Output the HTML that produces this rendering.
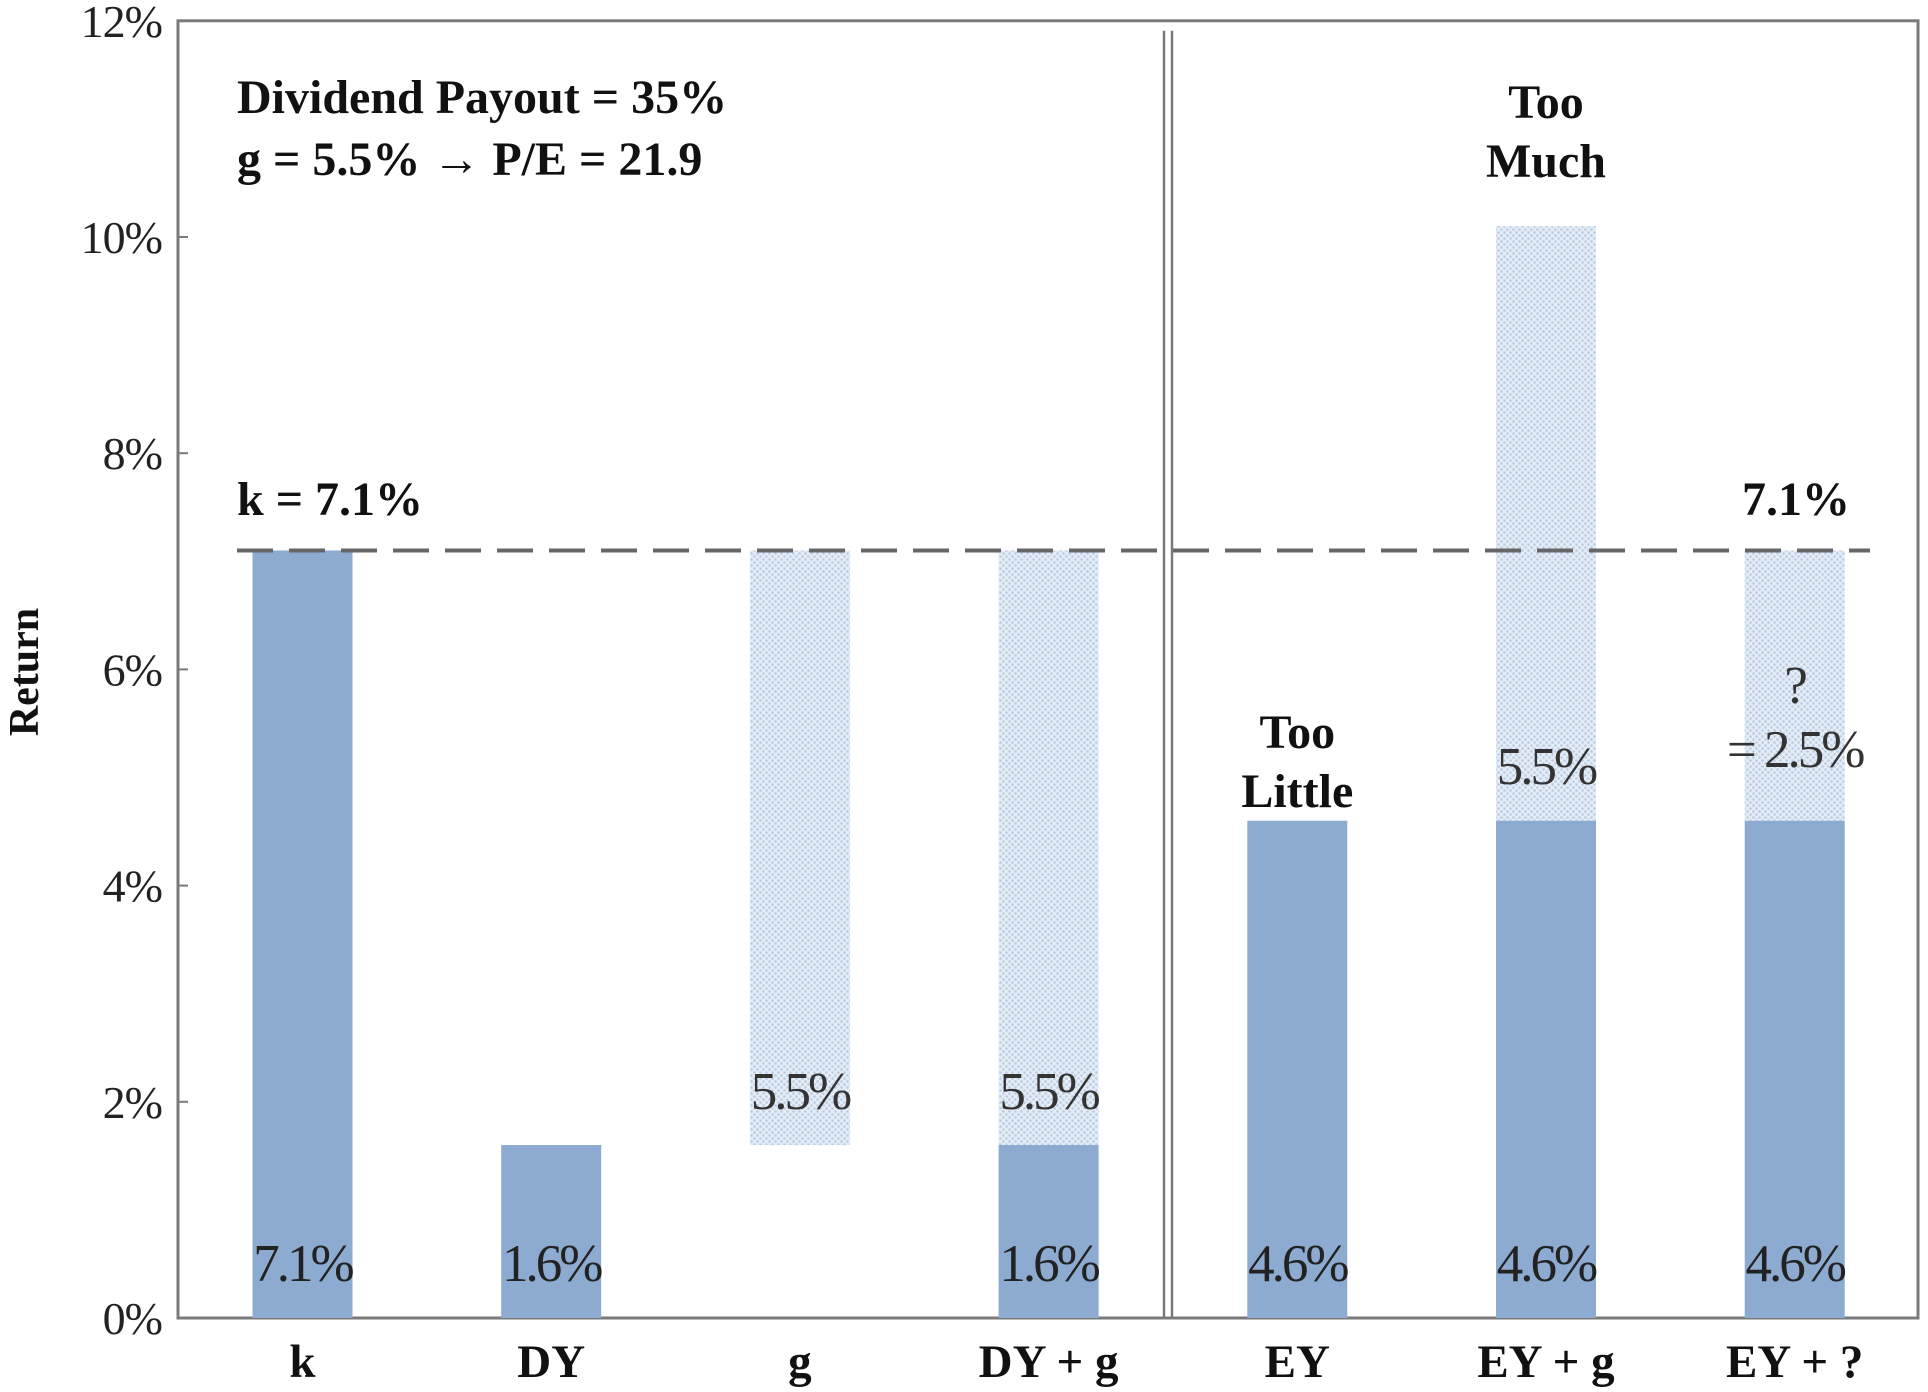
<!DOCTYPE html>
<html><head><meta charset="utf-8"><style>
html,body{margin:0;padding:0;background:#fff;}
svg{display:block;font-family:"Liberation Serif",serif;}
</style></head><body>
<svg id="chart" width="1928" height="1392" viewBox="0 0 1928 1392" xmlns="http://www.w3.org/2000/svg">
<defs>
<pattern id="dots" width="6" height="6" patternUnits="userSpaceOnUse">
<rect width="6" height="6" fill="#e4ecf6"/>
<circle cx="1.5" cy="1.5" r="1.3" fill="#b9cce4"/>
<circle cx="4.5" cy="4.5" r="1.3" fill="#b9cce4"/>
</pattern>
</defs>
<g id="content"></g>
</svg>
<script>
const categories = ["k","DY","g","DY + g","EY","EY + g","EY + ?"];
const solidBase = [0,0,0,0,0,0,0];
const solidTop = [7.1,1.6,0,1.6,4.6,4.6,4.6];
const dottedBase = [0,0,1.6,1.6,0,4.6,4.6];
const dottedTop = [0,0,7.1,7.1,0,10.1,7.1];
const solidLabels = ["7.1%","1.6%","","1.6%","4.6%","4.6%","4.6%"];
const dottedLabels = ["","","5.5%","5.5%","","",""];
const yTicks = [0,2,4,6,8,10,12];
const kValue = 7.1;

const NS="http://www.w3.org/2000/svg";
const g=document.getElementById('content');
const L=178,R=1918,B=1318,PER=108.1;
const y=v=>B-v*PER;
const xc=i=>302.5+i*248.7;
const BW=100;
function mk(tag,attrs,txt){const e=document.createElementNS(NS,tag);for(const k in attrs)e.setAttribute(k,attrs[k]);if(txt!==undefined)e.textContent=txt;g.appendChild(e);return e;}

let e=mk('rect',{x:L,y:y(12),width:R-L,height:B-y(12),fill:'none',stroke:'#7a7a7a','stroke-width':3});



yTicks.forEach(t=>{
  let tk=mk('line',{x1:L,x2:L+10,y1:y(t),y2:y(t),stroke:'#7a7a7a','stroke-width':2});
  
  
  let tl=mk('text',{x:L-16,y:y(t)+16,'text-anchor':'end','font-size':46,fill:'#222','letter-spacing':-1},t+'%');
  
  
});

categories.forEach((c,i)=>{
  if(dottedTop[i]>dottedBase[i]){
    let r=mk('rect',{x:xc(i)-BW/2,y:y(dottedTop[i]),width:BW,height:y(dottedBase[i])-y(dottedTop[i]),fill:'url(#dots)'});
    
    
  }
  if(solidTop[i]>solidBase[i]){
    let r=mk('rect',{x:xc(i)-BW/2,y:y(solidTop[i]),width:BW,height:y(solidBase[i])-y(solidTop[i]),fill:'#8daad0'});
    
    
  }
  if(solidLabels[i]){
    let t=mk('text',{x:xc(i),y:1281,'text-anchor':'middle','font-size':53,fill:'#222','letter-spacing':-3},solidLabels[i]);
    
    
  }
  if(dottedLabels[i]){
    let t=mk('text',{x:xc(i),y:1109,'text-anchor':'middle','font-size':53,fill:'#333','letter-spacing':-3},dottedLabels[i]);
    
    
  }
  let cl=mk('text',{x:xc(i),y:1377,'text-anchor':'middle','font-size':47,'font-weight':'bold',fill:'#111'},c);
  
  
});

[1164,1172].forEach(xx=>{
  let d=mk('line',{x1:xx,x2:xx,y1:y(12)+10,y2:B,stroke:'#7a7a7a','stroke-width':2.5});
  
  
});

let kl=mk('line',{x1:237,x2:1870,y1:y(kValue),y2:y(kValue),stroke:'#666','stroke-width':4,'stroke-dasharray':'36,16'});



const ann=[
 ["Dividend Payout = 35%",237,113,'start','annotation-payout'],
 ["g = 5.5% \u2192 P/E = 21.9",237,175,'start','annotation-pe'],
 ["k = 7.1%",237,515,'start','annotation-k'],
 ["7.1%",1850,515,'end','annotation-k-right'],
 ["Too",xc(5),118,'middle','annotation-too-much'],
 ["Much",xc(5),177,'middle','annotation-too-much'],
 ["Too",xc(4),748,'middle','annotation-too-little'],
 ["Little",xc(4),807,'middle','annotation-too-little'],
];
ann.forEach(a=>{
  let t=mk('text',{x:a[1],y:a[2],'text-anchor':a[3],'font-size':48,'font-weight':'bold',fill:'#111'},a[0]);
  
  
});
const ann2=[["5.5%",xc(5),784],["?",xc(6),703],["= 2.5%",xc(6),767]];
ann2.forEach(a=>{
  let t=mk('text',{x:a[1],y:a[2],'text-anchor':'middle','font-size':53,fill:'#333','letter-spacing':-3},a[0]);
  
  
});
let yt=mk('text',{x:0,y:0,'text-anchor':'middle','font-size':42,'font-weight':'bold',fill:'#111',transform:'translate(38,672) rotate(-90)'},"Return");


</script>
</body></html>
